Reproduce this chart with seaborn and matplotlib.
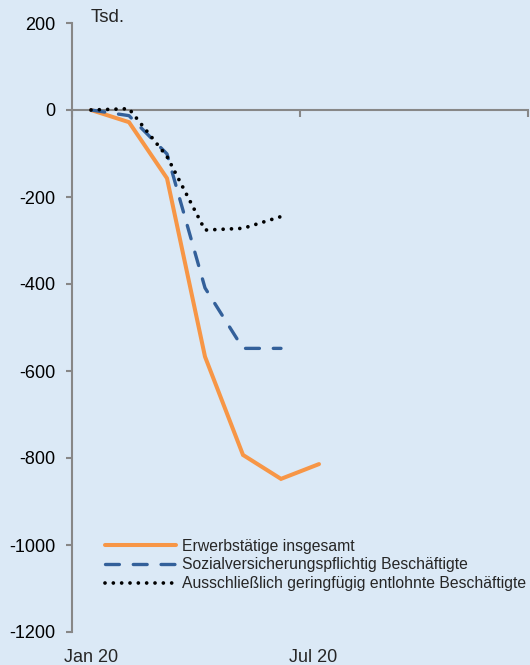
import matplotlib
matplotlib.use("Agg")
import matplotlib.pyplot as plt
import seaborn as sns
import pandas as pd

# ---- data (thousand persons, change vs. Jan 2020) ----
months = ["Jan 20", "Feb 20", "Mrz 20", "Apr 20", "Mai 20", "Jun 20", "Jul 20"]
erwerbstaetige = [0, -28, -157, -567, -793, -848, -814]
sozialvers = [0, -13, -101, -409, -548, -548]
geringfuegig = [0, 3, -107, -276, -272, -245]
series_names = ["Erwerbstätige insgesamt",
                "Sozialversicherungspflichtig Beschäftigte",
                "Ausschließlich geringfügig entlohnte Beschäftigte"]
yticks = [200, 0, -200, -400, -600, -800, -1000, -1200]
xlabels = ["Jan 20", "Jul 20"]

sns.set_theme(style="white")
plt.rcParams["font.family"] = ["Liberation Sans", "DejaVu Sans"]
plt.rcParams["lines.scale_dashes"] = False

BG = "#DBE9F6"
GRAY = "#878787"
ORANGE = "#F79646"
BLUE = "#33609A"

fig = plt.figure(figsize=(5.3, 6.65), dpi=100, facecolor=BG)
ax = fig.add_axes([72/530, 1-632/665, (528-72)/530, (632-23)/665])
ax.set_facecolor(BG)

df1 = pd.DataFrame({"x": range(len(erwerbstaetige)), "y": erwerbstaetige})
df2 = pd.DataFrame({"x": range(len(sozialvers)), "y": sozialvers})
df3 = pd.DataFrame({"x": range(len(geringfuegig)), "y": geringfuegig})

sns.lineplot(data=df1, x="x", y="y", ax=ax, color=ORANGE, lw=2.9,
             label=series_names[0], solid_capstyle="round", solid_joinstyle="miter")
sns.lineplot(data=df2, x="x", y="y", ax=ax, color=BLUE, lw=2.4,
             linestyle=(0, (10, 10)), dash_capstyle="round",
             label=series_names[1])
sns.lineplot(data=df3, x="x", y="y", ax=ax, color="black", lw=2.7,
             linestyle=(0, (0.001, 6.0)), dash_capstyle="round",
             label=series_names[2])

ax.set_xlim(-0.5, 11.5)
ax.set_ylim(-1200, 200)
ax.set_yticks(yticks)
ax.set_yticklabels([str(v) for v in yticks], fontsize=13)
ax.set_xticks([-0.5, 5.5, 11.5])
ax.set_xticklabels([])
ax.set_xlabel("")
ax.set_ylabel("")

for s in ["top", "right"]:
    ax.spines[s].set_visible(False)
ax.spines["left"].set_color(GRAY)
ax.spines["left"].set_linewidth(1.5)
ax.spines["bottom"].set_color(GRAY)
ax.spines["bottom"].set_linewidth(1.5)
ax.spines["bottom"].set_position(("data", 0))
ax.spines["bottom"].set_zorder(0.5)

ax.tick_params(axis="y", which="major", direction="out", length=4, width=1.5,
               color=GRAY, pad=8, left=True, labelcolor="black")
ax.tick_params(axis="x", which="major", direction="out", length=5, width=1.5,
               color=GRAY, bottom=True)

trans = matplotlib.transforms.blended_transform_factory(ax.transData, fig.transFigure)
ax.text(0, 1-657/665, xlabels[0], transform=trans, ha="center", va="center", fontsize=13)
ax.text(5.85, 1-657/665, xlabels[1], transform=trans, ha="center", va="center", fontsize=13)

fig.text(91/530, 1-17/665, "Tsd.", ha="left", va="center", fontsize=13.5)

leg = ax.legend(loc="center left", bbox_to_anchor=(105/530, 1-565/665),
                bbox_transform=fig.transFigure, frameon=False, fontsize=11.3,
                handlelength=4.5, handletextpad=0.4, labelspacing=0.25,
                borderaxespad=0, borderpad=0)

fig.savefig("out.png", dpi=100, facecolor=BG)
